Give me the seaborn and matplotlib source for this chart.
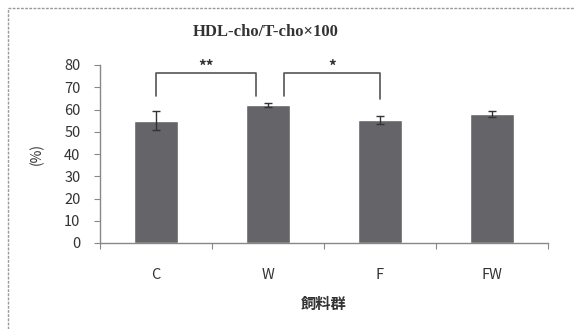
import matplotlib
matplotlib.use("Agg")
import matplotlib.pyplot as plt
from matplotlib.lines import Line2D
import seaborn as sns
import pandas as pd
import numpy as np

# Diet groups, mean HDL-cho/T-cho ratio (%) and standard errors
groups = ["C", "W", "F", "FW"]
means = [55.0, 62.0, 55.5, 58.0]
errors = [4.3, 1.0, 1.8, 1.5]
y_ticks = [0, 10, 20, 30, 40, 50, 60, 70, 80]

# Significance brackets: (left index, right index, bracket level, left leg end, right leg end, label)
brackets = [
    (0.0, 0.89, 76.5, 66.0, 66.0, "**"),
    (1.14, 2.0, 76.5, 66.0, 64.6, "*"),
]

sns.set_theme(style="white")
plt.rcParams["font.family"] = ["Noto Sans CJK JP", "DejaVu Sans"]

df = pd.DataFrame({"group": groups, "value": means})

fig = plt.figure(figsize=(5.74, 3.29), dpi=100)
ax = fig.add_axes([100 / 574, 1 - 243 / 329, 448 / 574, 178 / 329])

sns.barplot(data=df, x="group", y="value", color="#646469", width=0.4,
            saturation=1, errorbar=None, ax=ax, zorder=2)
ax.errorbar(np.arange(len(groups)), means, yerr=errors, fmt="none",
            ecolor="#333333", elinewidth=1.0, capsize=3, capthick=1.0, zorder=3)

ax.set_xlim(-0.5, len(groups) - 0.5)
ax.set_ylim(0, 80)
ax.set_yticks(y_ticks)
ax.set_yticklabels([str(v) for v in y_ticks], fontsize=10.5, color="#333333")

# Category labels on minor ticks, tick marks at the group boundaries
ax.set_xticks(np.arange(-0.5, len(groups), 1.0))
ax.set_xticklabels([])
ax.set_xticks(np.arange(len(groups)), minor=True)
ax.set_xticklabels(groups, minor=True, fontsize=10.5, color="#333333")
ax.tick_params(axis="x", which="major", direction="out", length=4, width=0.8,
               color="#888888", bottom=True)
ax.tick_params(axis="x", which="minor", length=0, pad=18)
ax.tick_params(axis="y", direction="out", length=4, width=0.8, color="#888888",
               left=True, pad=10)

for side in ["top", "right"]:
    ax.spines[side].set_visible(False)
for side in ["left", "bottom"]:
    ax.spines[side].set_color("#888888")
    ax.spines[side].set_linewidth(1.0)

ax.set_xlabel("飼料群", fontsize=11, fontweight="bold", color="#333333", labelpad=10)
ax.set_ylabel("(%)", fontsize=10, color="#333333")
ax.yaxis.set_label_coords(-0.125, 0.5)

for x0, x1, h, l0, l1, lab in brackets:
    ax.plot([x0, x0, x1, x1], [l0, h, h, l1], color="#555555", lw=1.2,
            clip_on=False, zorder=4)
    ax.text((x0 + x1) / 2, 79.2, lab, ha="center", va="center", fontsize=11,
            fontweight="bold", color="#333333", clip_on=False)

fig.text(266 / 574, 1 - 32 / 329, "HDL-cho/T-cho×100", ha="center", va="center",
         fontsize=12, fontweight="bold", family=["Liberation Serif", "DejaVu Serif"],
         color="#333333")

# Dashed frame around the chart area
fig.add_artist(Line2D([8 / 574, 8 / 574], [0, 1 - 8 / 329], transform=fig.transFigure,
                      color="#999999", lw=1.0, ls=(0, (2, 1))))
fig.add_artist(Line2D([8 / 574, 1], [1 - 8 / 329, 1 - 8 / 329], transform=fig.transFigure,
                      color="#999999", lw=1.0, ls=(0, (2, 1))))

fig.savefig("out.png", dpi=100)
